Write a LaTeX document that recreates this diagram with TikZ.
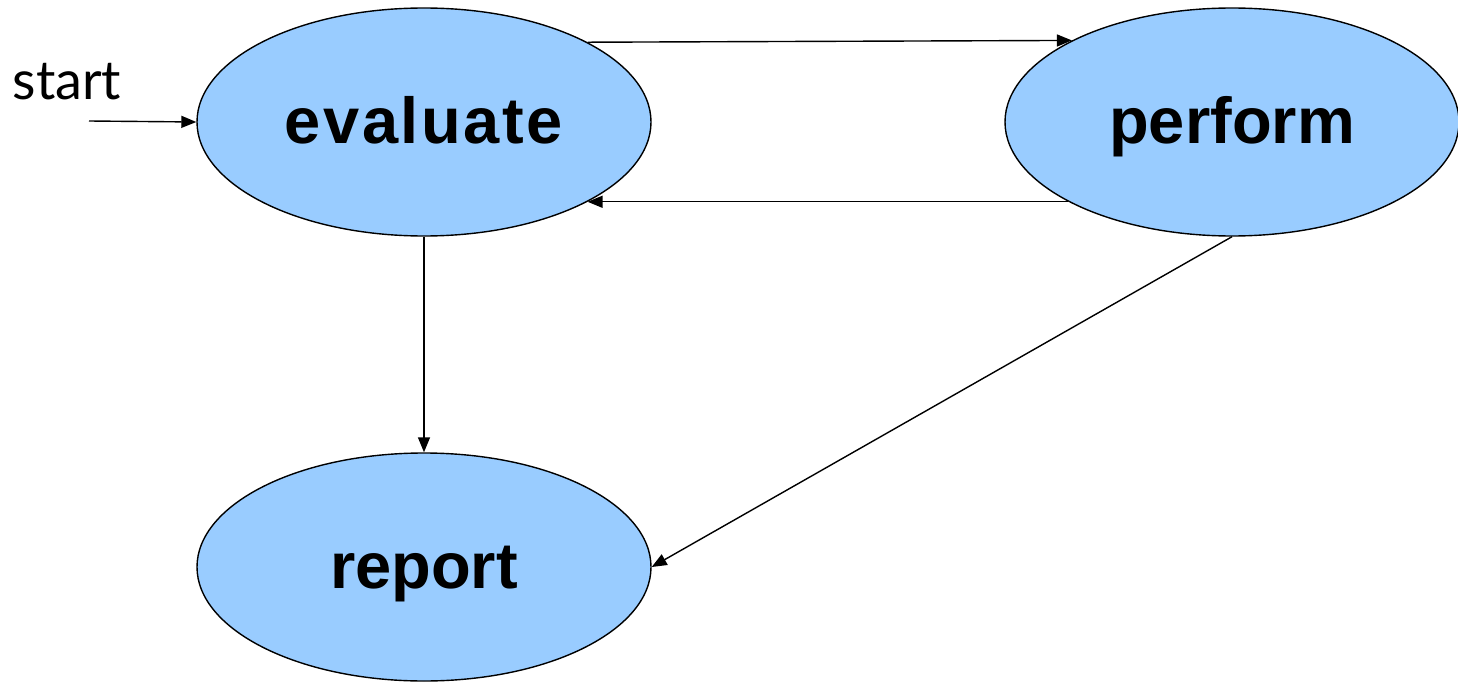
\documentclass[tikz,border=0pt]{standalone}
\usepackage{fontspec}
\setmainfont{Liberation Sans}
\newfontfamily\startfont{Lato}
\usetikzlibrary{shapes.geometric,arrows.meta}
\definecolor{stateblue}{HTML}{99CCFF}
\tikzset{
  state/.style={ellipse, draw=black, line width=1.4pt, fill=stateblue, minimum width=454pt, minimum height=228pt, inner sep=0pt, text height=47pt, text depth=4pt, font=\fontsize{65}{76}\selectfont\bfseries},
  arr/.style={line width=1.4pt, -{Triangle[length=15pt,width=12pt]}}
}
\begin{document}
\begin{tikzpicture}[x=1pt,y=-1pt]
\useasboundingbox (0,0) rectangle (1458,682);
\node[state] (evaluate) at (424,122) {\addfontfeature{LetterSpace=4}evaluate};
\node[state] (perform) at (1232,122) {perform};
\node[state] (report) at (424,567) {report};
\node[font=\startfont\fontsize{54}{60}\selectfont] (starttxt) at (67,82) {start};
\coordinate (start) at (89,121);
\draw[arr] (start) -- (evaluate.west);
\draw[arr] (evaluate.26.8) -- (perform.153.2);
\draw[arr] (perform.206.6) -- (evaluate.-26.6);
\draw[arr] (evaluate.south) -- (report.north);
\draw[arr] (perform.south) -- (report.east);
\end{tikzpicture}
\end{document}
